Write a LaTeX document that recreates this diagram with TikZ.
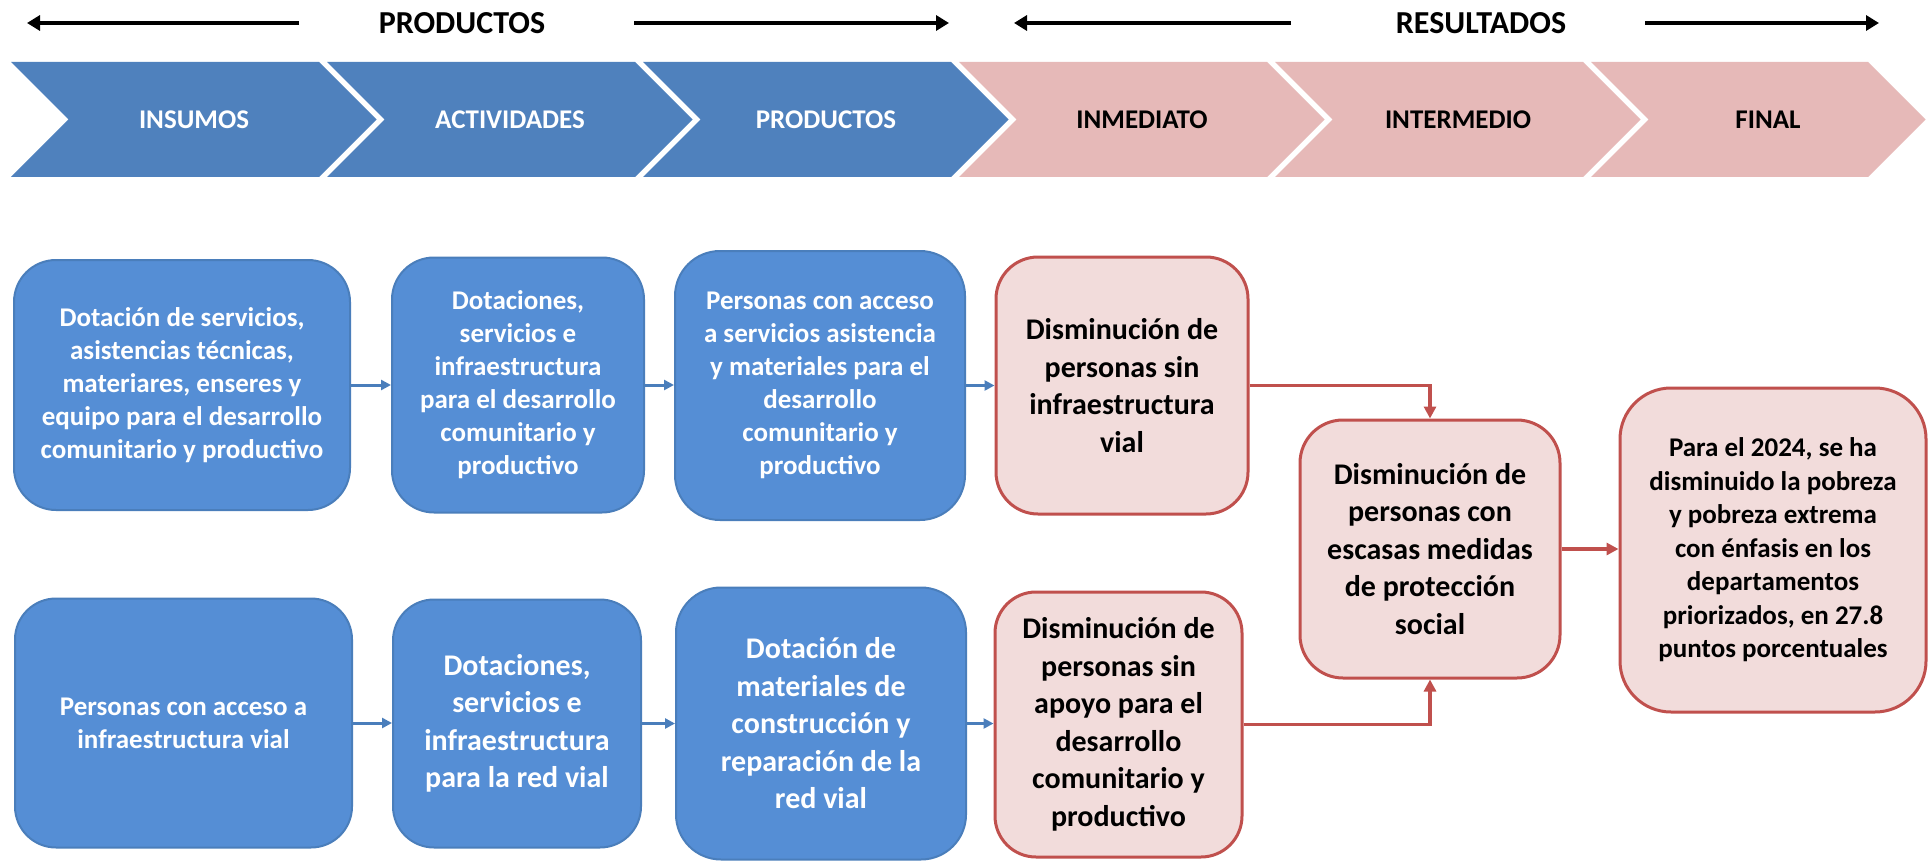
\documentclass[tikz,border=0pt]{standalone}
\usepackage{fontspec}
\setmainfont{Carlito}
\usetikzlibrary{arrows.meta}
\definecolor{chevblue}{HTML}{4F81BD}
\definecolor{chevpink}{HTML}{E6B9B8}
\definecolor{boxblue}{HTML}{558ED5}
\definecolor{boxblueline}{HTML}{4A7EBB}
\definecolor{boxpink}{HTML}{F2DCDB}
\definecolor{pinkline}{HTML}{C0504D}
\tikzset{
  bbox/.style={draw=boxblueline, line width=2pt, fill=boxblue, text=white, align=center,
    inner sep=0pt, font=\bfseries\fontsize{27}{33}\selectfont},
  bboxbig/.style={bbox, font=\bfseries\fontsize{30}{37.5}\selectfont},
  pbox/.style={draw=pinkline, line width=3pt, fill=boxpink, text=black, align=center,
    inner sep=0pt, font=\bfseries\fontsize{30}{37.5}\selectfont},
  pboxsmall/.style={pbox, font=\bfseries\fontsize{27}{33.5}\selectfont},
  chevtxt/.style={font=\bfseries\fontsize{27}{32}\selectfont, inner sep=0pt},
  hdr/.style={font=\bfseries\fontsize{32}{38}\selectfont, inner sep=0pt},
  harrow/.style={line width=4pt, -{Triangle[length=13pt,width=15pt]}},
  barrow/.style={draw=boxblueline, line width=3pt, -{Triangle[length=10pt,width=10pt]}},
  rarrow/.style={draw=pinkline, line width=3.5pt, -{Triangle[length=12pt,width=12pt]}},
}
\begin{document}
\begin{tikzpicture}[x=1pt, y=-1pt]
\useasboundingbox (0,0) rectangle (1932,861);
\fill[white] (0,0) rectangle (1932,861);

% header
\node[hdr] (hp) at (462,23) {PRODUCTOS};
\coordinate (hpa) at (299,23); \coordinate (hpb) at (27,23);
\coordinate (hpc) at (634,23); \coordinate (hpd) at (949,23);
\draw[harrow] (hpa) -- (hpb);
\draw[harrow] (hpc) -- (hpd);
\node[hdr] (hr) at (1481,23) {RESULTADOS};
\coordinate (hra) at (1291,23); \coordinate (hrb) at (1014,23);
\coordinate (hrc) at (1645,23); \coordinate (hrd) at (1879,23);
\draw[harrow] (hra) -- (hrb);
\draw[harrow] (hrc) -- (hrd);

% chevrons
\foreach \x/\w/\c in {11/308/chevblue,327/308/chevblue,643/308/chevblue,959/308/chevpink,1275/308/chevpink,1591/277/chevpink}{
  \fill[\c] (\x,62) -- (\x+\w,62) -- (\x+\w+57.5,119.5) -- (\x+\w,177) -- (\x,177) -- (\x+57.5,119.5) -- cycle;
}
\node[chevtxt, text=white] (c1) at (194,119.5) {INSUMOS};
\node[chevtxt, text=white] (c2) at (510,119.5) {ACTIVIDADES};
\node[chevtxt, text=white] (c3) at (826,119.5) {PRODUCTOS};
\node[chevtxt, text=black] (c4) at (1142,119.5) {INMEDIATO};
\node[chevtxt, text=black] (c5) at (1458,119.5) {INTERMEDIO};
\node[chevtxt, text=black] (c6) at (1768,119.5) {FINAL};

% row 1
\node[bbox, minimum width=336pt, minimum height=250pt, rounded corners=42pt] (b1) at (182,385)
  {Dotación de servicios,\\asistencias técnicas,\\materiares, enseres y\\equipo para el desarrollo\\comunitario y productivo};
\node[bbox, minimum width=252pt, minimum height=255pt, rounded corners=42pt] (b2) at (518,385)
  {Dotaciones,\\servicios e\\infraestructura\\para el desarrollo\\comunitario y\\productivo};
\node[bbox, minimum width=290pt, minimum height=269pt, rounded corners=45pt] (b3) at (820,385.5)
  {Personas con acceso\\a servicios asistencia\\y materiales para el\\desarrollo\\comunitario y\\productivo};
\node[pbox, minimum width=252pt, minimum height=257pt, rounded corners=42pt] (p1) at (1122,385.5)
  {Disminución de\\personas sin\\infraestructura\\vial};

% row 2
\node[bbox, minimum width=337pt, minimum height=249pt, rounded corners=41pt] (b4) at (183.5,723)
  {Personas con acceso a\\infraestructura vial};
\node[bboxbig, minimum width=248pt, minimum height=248pt, rounded corners=41pt] (b5) at (517,723.5)
  {Dotaciones,\\servicios e\\infraestructura\\para la red vial};
\node[bboxbig, minimum width=290pt, minimum height=272pt, rounded corners=45pt] (b6) at (821,723.5)
  {Dotación de\\materiales de\\construcción y\\reparación de la\\red vial};
\node[pbox, minimum width=247pt, minimum height=265pt, rounded corners=41pt] (p2) at (1118.5,724.5)
  {Disminución de\\personas sin\\apoyo para el\\desarrollo\\comunitario y\\productivo};

% right side
\node[pbox, minimum width=260pt, minimum height=258pt, rounded corners=43pt] (p3) at (1430,549)
  {Disminución de\\personas con\\escasas medidas\\de protección\\social};
\node[pboxsmall, minimum width=306pt, minimum height=324pt, rounded corners=51pt] (p4) at (1773,550)
  {Para el 2024, se ha\\disminuido la pobreza\\y pobreza extrema\\con énfasis en los\\departamentos\\priorizados, en 27.8\\puntos porcentuales};

% connectors
\draw[barrow] (b1.east) -- (b1.east -| b2.west);
\draw[barrow] (b2.east) -- (b2.east -| b3.west);
\draw[barrow] (b3.east) -- (b3.east -| p1.west);
\draw[barrow] (b4.east) -- (b4.east -| b5.west);
\draw[barrow] (b5.east) -- (b5.east -| b6.west);
\draw[barrow] (b6.east) -- (b6.east -| p2.west);
\draw[rarrow] (p1.east) -| (p3.north);
\draw[rarrow] (p2.east) -| (p3.south);
\draw[rarrow] (p3.east) -- (p3.east -| p4.west);
\end{tikzpicture}
\end{document}
